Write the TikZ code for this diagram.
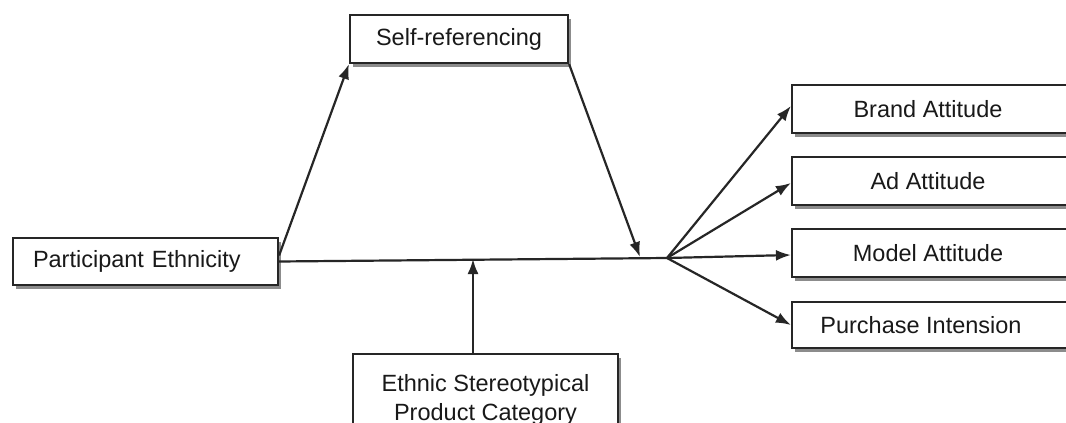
\documentclass[tikz,border=0pt]{standalone}
\usepackage{fontspec}
\setmainfont{Liberation Sans}
\usetikzlibrary{arrows.meta,shadows}
\begin{document}
\begin{tikzpicture}[x=1pt,y=-1pt,
  every node/.style={font=\fontsize{23.5}{29}\selectfont, text=black!90},
  box/.style={draw=black!85, line width=2.2pt, fill=white, inner sep=0pt,
    drop shadow={shadow xshift=2.5pt, shadow yshift=-3.5pt, fill=black!45, opacity=1}},
  link/.style={draw=black!85, line width=2.2pt},
  arr/.style={link, -{Latex[length=15pt,width=11pt]}}]
  \useasboundingbox (0,0) rectangle (1066,423);
  \clip (0,0) rectangle (1066,423);
  \fill[white] (0,0) rectangle (1066,423);

  % boxes
  \node[box, minimum height=47, text width=225, inner xsep=20, align=left]
    (pe) at (145.5,261.5) {Participant Ethnicity};
  \node[box, minimum width=218, minimum height=48] (sr) at (459,39) {Self-referencing};
  \node[box, minimum width=290, minimum height=48] (ba) at (937,109)
    {Brand Attitude\hspace*{18pt}};
  \node[box, minimum width=290, minimum height=48] (aa) at (937,181)
    {Ad Attitude\hspace*{18pt}};
  \node[box, minimum width=290, minimum height=48] (ma) at (937,253)
    {Model Attitude\hspace*{18pt}};
  \node[box, minimum width=290, minimum height=46] (pi) at (937,325)
    {Purchase Intension\hspace*{32pt}};
  \node[box, minimum width=265, minimum height=92, align=center, anchor=north]
    (ep) at (485.5,353) {Ethnic Stereotypical\\Product Category};

  % points on the main path
  \coordinate (hub) at (667,258);
  \coordinate (m1) at (640,257);
  \coordinate (m2) at (473,259);

  % connectors
  \draw[link] (pe.east) -- (hub);
  \draw[arr] ([yshift=6pt]pe.east) -- (sr.south west);
  \draw[arr] (sr.south east) -- (m1);
  \draw[arr] (ep.north -| m2) -- (m2);
  \draw[arr] (hub) -- ([yshift=3pt]ba.west);
  \draw[arr] (hub) -- ([yshift=-2pt]aa.west);
  \draw[arr] (hub) -- ([yshift=-2pt]ma.west);
  \draw[arr] (hub) -- (pi.west);
\end{tikzpicture}
\end{document}
